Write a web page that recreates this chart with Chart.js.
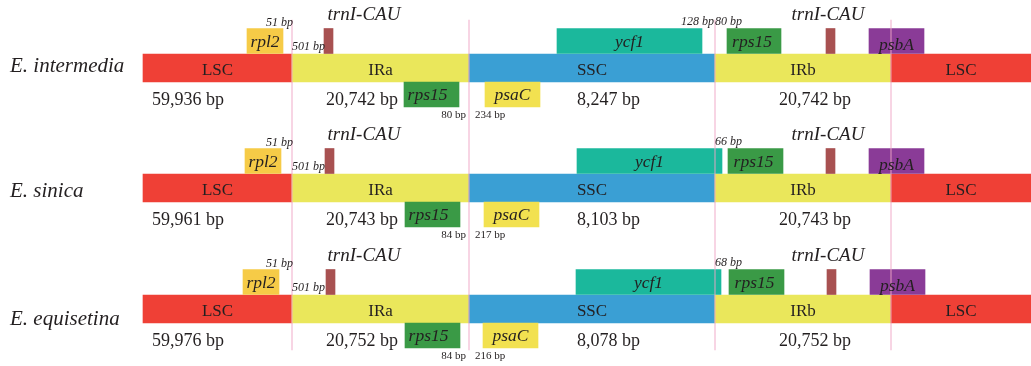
<!DOCTYPE html>
<html>
<head>
<meta charset="utf-8">
<script src="https://cdn.jsdelivr.net/npm/chart.js@4"></script>
<style>
  html, body { margin: 0; padding: 0; background: #fff; }
  canvas { display: block; }
</style>
</head>
<body>
<canvas id="irChart" width="1031" height="366"></canvas>
<script>
// species rows
const rowNames = ['E. intermedia', 'E. sinica', 'E. equisetina']

// quadrants (diagram units, not to scale)
const regionNames = ['LSC', 'IRa', 'SSC', 'IRb', 'LSC']
const regionEdges = [143, 292, 469, 715, 891, 1031]
const regionLengths = [
	['59,936 bp', '20,742 bp', '8,247 bp', '20,742 bp'],
	['59,961 bp', '20,743 bp', '8,103 bp', '20,743 bp'],
	['59,976 bp', '20,752 bp', '8,078 bp', '20,752 bp'],
]

// genes near the junctions
const geneNames = ['rpl2', 'trnI-CAU', 'rps15', 'psaC', 'ycf1', 'rps15', 'trnI-CAU', 'psbA']
const geneStart = [
	[247, 324, 404, 485, 557, 727, 826, 869],
	[245, 325, 405, 484, 577, 728, 826, 869],
	[243, 326, 405, 483, 576, 729, 827, 870],
]
const geneEnd = [
	[283, 333, 459, 540, 702, 781, 835, 924],
	[281, 334, 460, 539, 722, 783, 835, 924],
	[279, 335, 460, 538, 721, 784, 836, 925],
]

// distances at the borders
const rpl2Bp = ['51 bp', '51 bp', '51 bp']
const trnIBp = ['501 bp', '501 bp', '501 bp']
const rps15Bp = ['80 bp', '84 bp', '84 bp']
const psaCBp = ['234 bp', '217 bp', '216 bp']
const ycf1Bp = ['128 bp', '66 bp', '68 bp']
const rps15bBp = ['80 bp', '', '']

// layout
const rowY = [68, 188, 309]
const nameY = [66, 191, 319]
const lengthX = [152, 326, 577, 779]
const geneBelow = [false, false, true, true, false, false, false, false]
const regionColors = ['#ef4036', '#eae75b', '#3a9fd4', '#eae75b', '#ef4036']
const geneColors = ['#f6cb47', '#a85151', '#3a9a46', '#f2e150', '#1bb89c', '#3a9a46', '#a85151', '#8a3b97']
const ink = '#231f20'
const serif = '"Liberation Serif", "DejaVu Serif", serif'

const regionData = []
const regionBg = []
const geneData = []
const geneBg = []
rowNames.forEach((name, r) => {
	regionNames.forEach((reg, k) => {
		regionData.push({ x: [regionEdges[k], regionEdges[k + 1]], y: rowY[r] })
		regionBg.push(regionColors[k])
	})
	geneNames.forEach((g, k) => {
		const yy = geneBelow[k] ? rowY[r] + 26.5 : rowY[r] - 27
		geneData.push({ x: [geneStart[r][k], geneEnd[r][k]], y: yy })
		geneBg.push(geneColors[k])
	})
})
const borderData = regionEdges.slice(1, 5).map((e) => ({ x: [e - 0.6, e + 0.6], y: 185 }))

const labelPlugin = {
	id: 'irLabels',
	afterDatasetsDraw(chart) {
		const { ctx } = chart
		const sx = chart.scales.x
		const sy = chart.scales.y
		const put = (text, px, py, font, align) => {
			ctx.font = font
			ctx.textAlign = align || 'center'
			ctx.textBaseline = 'middle'
			ctx.fillStyle = ink
			ctx.fillText(text, sx.getPixelForValue(px), sy.getPixelForValue(py))
		}
		ctx.save()
		rowNames.forEach((name, r) => {
			const y0 = rowY[r]
			put(name, 10, nameY[r], 'italic 21px ' + serif, 'left')
			regionNames.forEach((reg, k) => {
				put(reg, (regionEdges[k] + regionEdges[k + 1]) / 2, y0 + 3, '17px ' + serif)
			})
			regionLengths[r].forEach((t, k) => put(t, lengthX[k], y0 + 32, '18px ' + serif, 'left'))
			geneNames.forEach((g, k) => {
				if (g === 'trnI-CAU') return
				let cx = (geneStart[r][k] + geneEnd[r][k]) / 2
				if (g === 'rps15') cx -= k === 2 ? 4 : 2
				const cy = geneBelow[k] ? y0 + 27.5 : y0 - 26
				put(g, cx, g === 'psbA' ? cy + 3 : cy, 'italic 17.5px ' + serif)
			})
			put('trnI-CAU', 364, y0 - 53, 'italic 19px ' + serif)
			put('trnI-CAU', 828, y0 - 53, 'italic 19px ' + serif)
			put(rpl2Bp[r], 293, y0 - 45, 'italic 12px ' + serif, 'right')
			put(trnIBp[r], 292, y0 - 21, 'italic 12px ' + serif, 'left')
			put(rps15Bp[r], 466, y0 + 47, '11px ' + serif, 'right')
			put(psaCBp[r], 475, y0 + 47, '11px ' + serif, 'left')
			const jsb = regionEdges[3]
			if (geneEnd[r][4] < jsb) {
				put(ycf1Bp[r], jsb - 1, y0 - 46, 'italic 12px ' + serif, 'right')
			} else {
				put(ycf1Bp[r], jsb, y0 - 46, 'italic 12px ' + serif, 'left')
			}
			if (rps15bBp[r]) put(rps15bBp[r], jsb, y0 - 46, 'italic 12px ' + serif, 'left')
		})
		ctx.restore()
	},
}

new Chart(document.getElementById('irChart'), {
	type: 'bar',
	data: {
		datasets: [
			{
				data: borderData,
				backgroundColor: 'rgba(240, 165, 198, 0.5)',
				barThickness: 330,
				grouped: false,
				order: 0,
			},
			{
				data: geneData,
				backgroundColor: geneBg,
				barThickness: 25,
				grouped: false,
				order: 1,
			},
			{
				data: regionData,
				backgroundColor: regionBg,
				barThickness: 28,
				grouped: false,
				order: 2,
			},
		],
	},
	options: {
		indexAxis: 'y',
		responsive: false,
		devicePixelRatio: 1,
		animation: false,
		layout: { padding: 0 },
		scales: {
			x: { type: 'linear', min: 0, max: 1031, display: false, offset: false },
			y: { type: 'linear', min: 0, max: 366, reverse: true, display: false, offset: false },
		},
		plugins: {
			legend: { display: false },
			tooltip: { enabled: false },
		},
	},
	plugins: [labelPlugin],
})
</script>
</body>
</html>
